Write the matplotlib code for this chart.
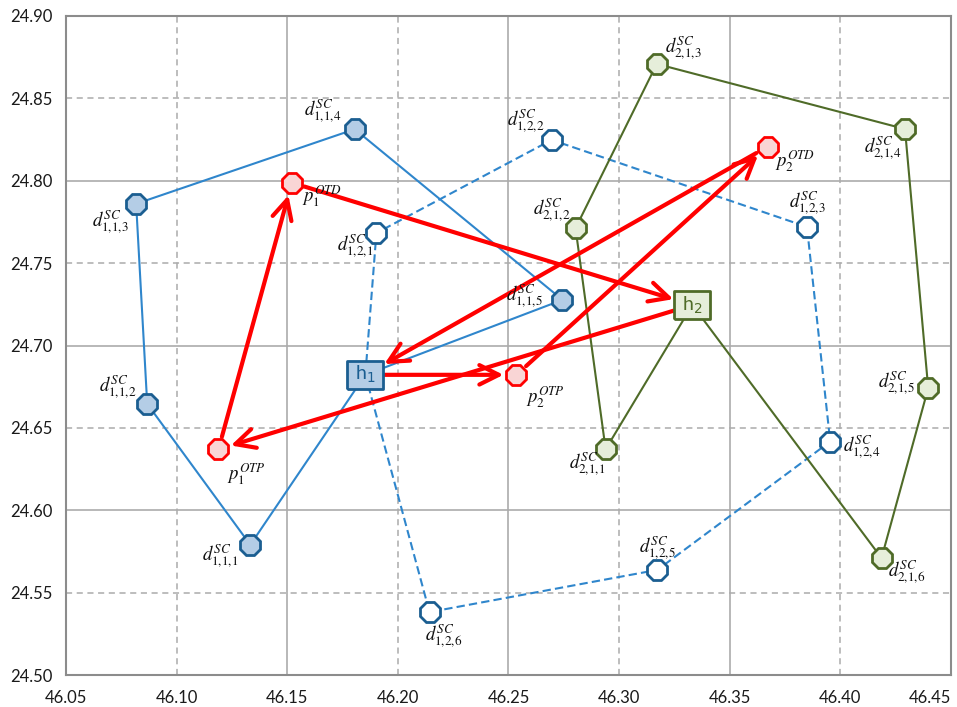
import numpy as np
import matplotlib
matplotlib.use("Agg")
import matplotlib.pyplot as plt

# depots
h1 = (46.1853, 24.6822)
h2 = (46.3331, 24.7246)

# vehicle routes (customer stops in visiting order)
route11_x = [46.1333, 46.0867, 46.0817, 46.1805, 46.2744]
route11_y = [24.5790, 24.6646, 24.7860, 24.8313, 24.7277]
route12_x = [46.1903, 46.2695, 46.3849, 46.3954, 46.3173, 46.2143]
route12_y = [24.7683, 24.8248, 24.7720, 24.6417, 24.5638, 24.5382]
route21_x = [46.2939, 46.2803, 46.3170, 46.4292, 46.4397, 46.4186]
route21_y = [24.6370, 24.7712, 24.8709, 24.8314, 24.6741, 24.5710]

# pickup / delivery points
p1_otp = (46.1189, 24.6370)
p1_otd = (46.1521, 24.7988)
p2_otp = (46.2536, 24.6822)
p2_otd = (46.3671, 24.8207)

x_ticks = [46.05, 46.10, 46.15, 46.20, 46.25, 46.30, 46.35, 46.40, 46.45]
y_ticks = [24.50, 24.55, 24.60, 24.65, 24.70, 24.75, 24.80, 24.85, 24.90]

# label offsets in pixels (dx, dy up)
off11 = [(-30, -12), (-29, 16), (-26, -19), (-32, 18), (-38, 3)]
off12 = [(-21, -13), (-26, 19), (0, 23), (31, -6), (0, 22), (14, -24)]
off21 = [(-19, -15), (-24, 18), (27, 16), (-22, -19), (-32, 5), (25, -14)]

BLUE = "#2F86CC"
BLUE_EDGE = "#1B5E91"
BLUE_FILL = "#B4CDE6"
GREEN = "#4F6B28"
GREEN_FILL = "#E6EEDA"
RED = "#FF0000"
RED_FILL = "#F9D5D5"

fig = plt.figure(figsize=(9.57, 7.07), dpi=100)
ax = fig.add_axes([66 / 957, 32 / 707, 885 / 957, 659 / 707])
ax.set_xlim(46.05, 46.45)
ax.set_ylim(24.50, 24.90)

# grid: solid every 0.1, dashed in between
for i, xv in enumerate(x_ticks[1:-1]):
    if i % 2 == 0:
        ax.axvline(xv, color="#ABABAB", lw=1.1, ls=(0, (4, 3)), zorder=0)
    else:
        ax.axvline(xv, color="#ABABAB", lw=1.2, zorder=0)
for i, yv in enumerate(y_ticks[1:-1]):
    if i % 2 == 0:
        ax.axhline(yv, color="#ABABAB", lw=1.1, ls=(0, (4, 3)), zorder=0)
    else:
        ax.axhline(yv, color="#ABABAB", lw=1.2, zorder=0)

ax.set_xticks(x_ticks)
ax.set_yticks(y_ticks)
ax.set_xticklabels([f"{v:.2f}" for v in x_ticks], family="Lato", fontsize=12)
ax.set_yticklabels([f"{v:.2f}" for v in y_ticks], family="Lato", fontsize=12)
ax.tick_params(length=0, pad=10, colors="#1A1A1A")
ax.tick_params(axis="x", pad=11)
# keep the last x label inside the figure
ax.get_xticklabels()[-1].set_horizontalalignment("right")
for s in ax.spines.values():
    s.set_color("#8C8C8C")
    s.set_linewidth(1.5)

# route lines (closed at the depot)
ax.plot([h1[0]] + route11_x + [h1[0]], [h1[1]] + route11_y + [h1[1]],
        color=BLUE, lw=1.5, zorder=2)
ax.plot([h1[0]] + route12_x + [h1[0]], [h1[1]] + route12_y + [h1[1]],
        color=BLUE, lw=1.5, ls=(0, (4, 2)), zorder=2)
ax.plot([h2[0]] + route21_x + [h2[0]], [h2[1]] + route21_y + [h2[1]],
        color=GREEN, lw=1.5, zorder=2)

mk = dict(marker="8", ms=16, mew=2, ls="none", zorder=5)
ax.plot(route11_x, route11_y, mfc=BLUE_FILL, mec=BLUE_EDGE, **mk)
ax.plot(route12_x, route12_y, mfc="white", mec=BLUE_EDGE, **mk)
ax.plot(route21_x, route21_y, mfc=GREEN_FILL, mec=GREEN, **mk)
px = [p1_otp[0], p1_otd[0], p2_otp[0], p2_otd[0]]
py = [p1_otp[1], p1_otd[1], p2_otp[1], p2_otd[1]]
ax.plot(px, py, marker="8", ms=16, mew=2, ls="none", mfc=RED_FILL, mec=RED, zorder=5)

# depot boxes
box = [(-1, -0.79), (1, -0.79), (1, 0.79), (-1, 0.79), (-1, -0.79)]
ax.plot(*h1, marker=box, ms=25.5, mew=2, mfc=BLUE_FILL, mec=BLUE_EDGE, zorder=6)
ax.plot(*h2, marker=box, ms=25.5, mew=2, mfc=GREEN_FILL, mec=GREEN, zorder=6)
ax.text(*h1, "h$_1$", ha="center", va="center", fontsize=14, color=BLUE_EDGE,
        family="Lato", math_fontfamily="dejavusans", zorder=7)
ax.text(*h2, "h$_2$", ha="center", va="center", fontsize=14, color=GREEN,
        family="Lato", math_fontfamily="dejavusans", zorder=7)

# arrows between depot and pickup/delivery points
BOX_W, BOX_H = 19.0, 15.0   # half sizes in pixels
MK_R = 13.0


def shrink_for(kind, dx, dy):
    if kind == "box":
        d = np.hypot(dx, dy)
        t = min(BOX_W / abs(dx) if dx else 1e9, BOX_H / abs(dy) if dy else 1e9)
        return t * d * 0.72
    return MK_R * 0.72


arrows = [
    (h1, "box", p2_otp, "mk"),
    (p2_otp, "mk", p2_otd, "mk"),
    (p2_otd, "mk", h1, "box"),
    (h2, "box", p1_otp, "mk"),
    (p1_otp, "mk", p1_otd, "mk"),
    (p1_otd, "mk", h2, "box"),
]
for a, ka, b, kb in arrows:
    pa = ax.transData.transform(a)
    pb = ax.transData.transform(b)
    dx, dy = pb - pa
    ax.annotate("", xy=b, xytext=a,
                arrowprops=dict(arrowstyle="->,head_length=0.7,head_width=0.35",
                                color=RED, lw=3,
                                shrinkA=shrink_for(ka, dx, dy),
                                shrinkB=shrink_for(kb, dx, dy),
                                mutation_scale=20),
                zorder=4)

# labels
lab = dict(textcoords="offset points", ha="center", va="center", fontsize=13.5,
           math_fontfamily="stix", color="#111111", zorder=8)


def put_labels(xs, ys, offs, k, r):
    for i, (x, y, o) in enumerate(zip(xs, ys, offs)):
        ax.annotate(rf"$d_{{{k}{{,}}{r}{{,}}{i + 1}}}^{{SC}}$", (x, y),
                    xytext=(o[0] * 0.72, o[1] * 0.72), **lab)


put_labels(route11_x, route11_y, off11, 1, 1)
put_labels(route12_x, route12_y, off12, 1, 2)
put_labels(route21_x, route21_y, off21, 2, 1)

ax.annotate(r"$p_1^{OTD}$", p1_otd, xytext=(30 * 0.72, -13 * 0.72), **lab)
ax.annotate(r"$p_1^{OTP}$", p1_otp, xytext=(28 * 0.72, -25 * 0.72), **lab)
ax.annotate(r"$p_2^{OTD}$", p2_otd, xytext=(27 * 0.72, -15 * 0.72), **lab)
ax.annotate(r"$p_2^{OTP}$", p2_otp, xytext=(29 * 0.72, -22 * 0.72), **lab)

fig.savefig("out.png", dpi=100)
